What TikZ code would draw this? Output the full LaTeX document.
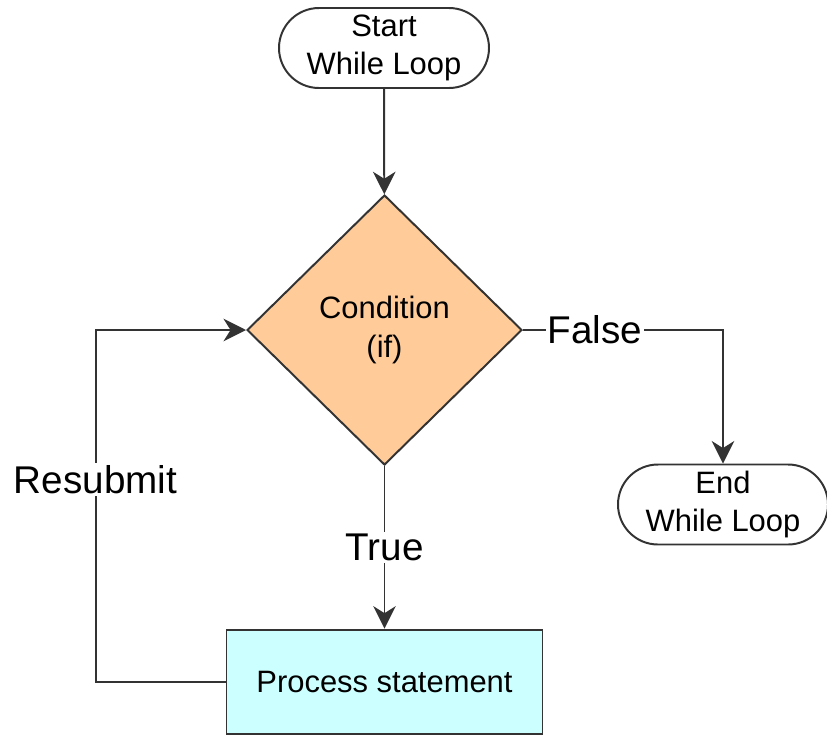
\documentclass[tikz,border=0pt]{standalone}
\usepackage{fontspec}
\setmainfont{Liberation Sans}
\usetikzlibrary{shapes.geometric,arrows.meta}

\definecolor{condfill}{HTML}{FFCC99}
\definecolor{procfill}{HTML}{CCFFFF}
\definecolor{linegray}{HTML}{333333}

\begin{document}
\begin{tikzpicture}
           \tikzstyle{terminal} = [rectangle, rounded corners=1cm, minimum width=5.25cm, minimum height=2cm, align=center, draw=linegray, line width=1.4pt, font=\fontsize{22}{27.5}\selectfont]
           \tikzstyle{decision} = [diamond, aspect=1, inner sep=0pt, minimum width=6.875cm, minimum height=6.75cm, align=center, draw=linegray, line width=1.4pt, fill=condfill, font=\fontsize{22}{27.5}\selectfont]
           \tikzstyle{process} = [rectangle, minimum width=7.9cm, minimum height=2.6cm, text centered, draw=linegray, line width=1.4pt, fill=procfill, font=\fontsize{22}{27.5}\selectfont]
           \tikzstyle{branch} = [fill=white, inner sep=1.5pt, font=\fontsize{27.5}{33}\selectfont]
           \tikzstyle{arrow} = [draw=linegray, line width=1.4pt, -{Stealth[length=16pt, width=16pt, inset=5pt]}]

            \useasboundingbox (0,0) rectangle (20.675,-18.375);

            \node (start) [terminal] at (9.6,-1.2) {Start\\While Loop};
            \node (cond) [decision, below of=start, node distance=7.05cm, xshift=0.0125cm] {Condition\\(if)};
            \node (end) [terminal, below of=cond, node distance=4.3625cm, xshift=8.4625cm] {End\\While Loop};
            \node (proc) [process, below of=cond, node distance=8.79cm] {Process statement};

            \draw[arrow] (start) -- (cond);
            \draw[arrow] (cond.east) -| node[branch, pos=0.18] {False} (end.north);
            \draw[arrow] (cond.south) -- node[branch] {True} (proc.north);
            \draw[arrow] (proc.west) -- ++(-3.25cm,0) |- node[branch, pos=0.287] {Resubmit} (cond.west);
       \end{tikzpicture}
\end{document}
